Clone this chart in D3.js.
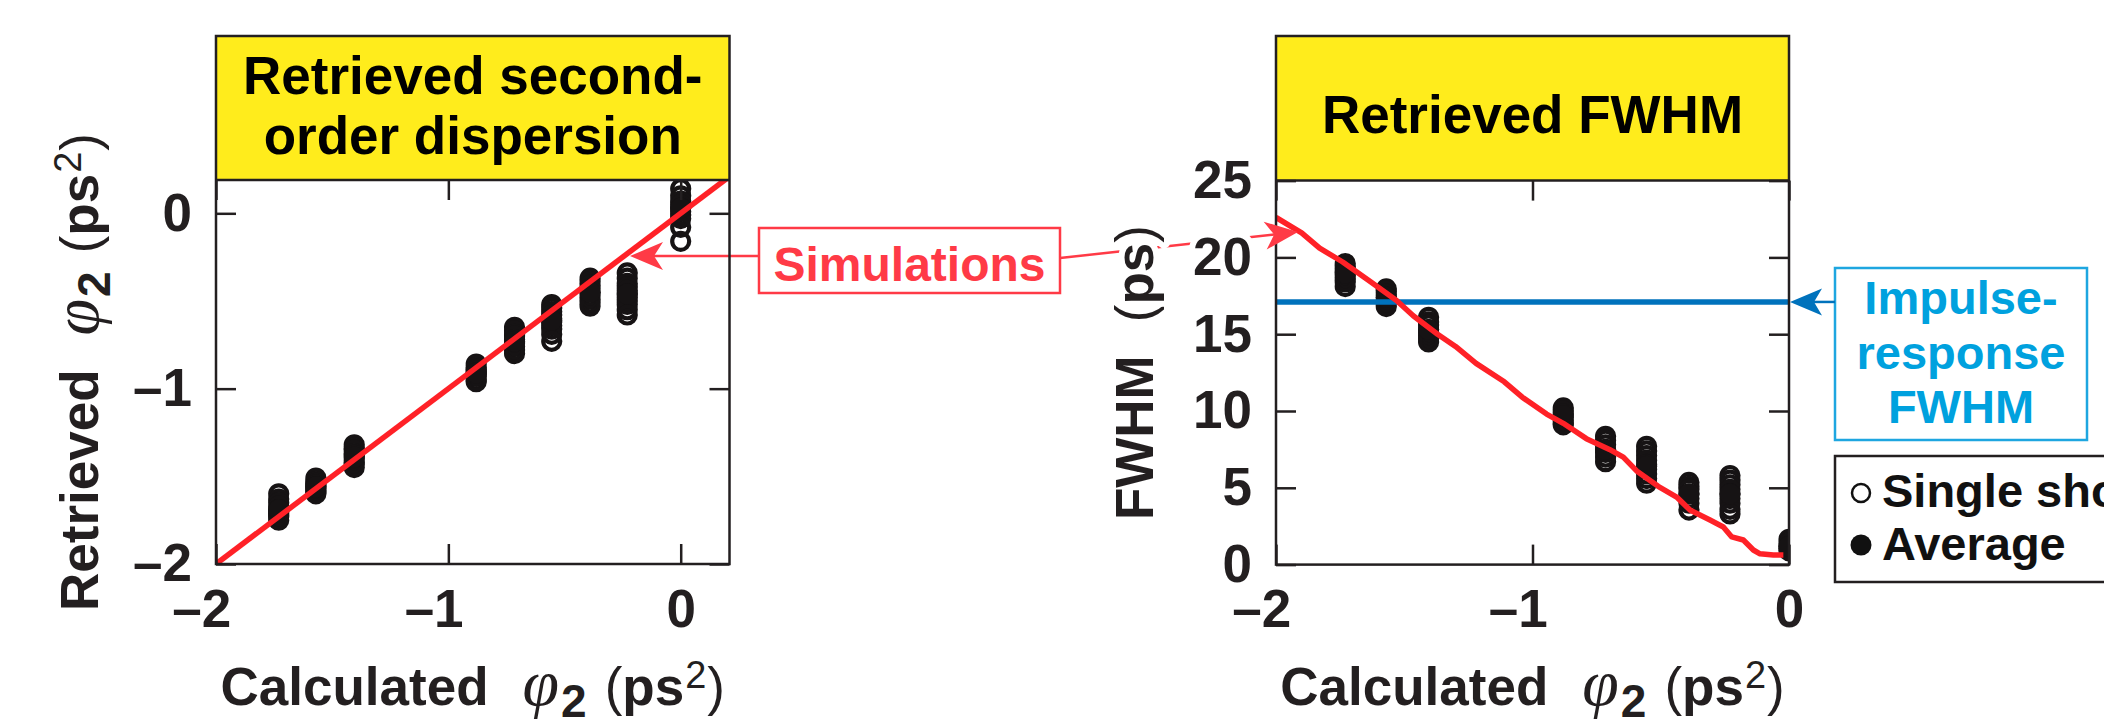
<!DOCTYPE html>
<html>
<head>
<meta charset="utf-8">
<script src="https://d3js.org/d3.v7.min.js"></script>
<style>
  body { margin: 0; background: #fff; }
</style>
</head>
<body>
<div id="chart"></div>
<script>
// Calculated phi2 of each shot group (ps^2)
const calcPhi = [-1.73, -1.57, -1.405, -0.88, -0.715, -0.555, -0.39, -0.23, 0];

// Retrieved phi2, single shots per group (ps^2)
const phiShots = [
  [-1.60, -1.63, -1.65, -1.67, -1.69, -1.70, -1.71, -1.72, -1.73, -1.75],
  [-1.51, -1.53, -1.54, -1.55, -1.56, -1.57, -1.58, -1.59, -1.60],
  [-1.32, -1.34, -1.35, -1.37, -1.38, -1.40, -1.42, -1.43, -1.45],
  [-0.86, -0.88, -0.89, -0.90, -0.91, -0.92, -0.93, -0.95, -0.96],
  [-0.65, -0.67, -0.69, -0.70, -0.72, -0.74, -0.76, -0.78, -0.80],
  [-0.52, -0.54, -0.56, -0.58, -0.60, -0.62, -0.64, -0.66, -0.69, -0.73],
  [-0.37, -0.39, -0.41, -0.43, -0.45, -0.47, -0.49, -0.51, -0.53],
  [-0.34, -0.37, -0.40, -0.42, -0.44, -0.46, -0.48, -0.50, -0.52, -0.55, -0.58],
  [0.14, 0.10, 0.07, 0.05, 0.03, 0.01, -0.01, -0.03, -0.08, -0.16]
];
const phiAvg = [-1.69, -1.56, -1.39, -0.91, -0.73, -0.61, -0.45, -0.46, 0.03];

// Retrieved FWHM, single shots per group (ps)
const fwhmShots = [
  [19.6, 19.4, 19.2, 19.0, 18.8, 18.6, 18.4, 18.1],
  [17.95, 17.8, 17.6, 17.4, 17.2, 17.0, 16.8],
  [16.1, 15.8, 15.6, 15.3, 15.1, 14.9, 14.7, 14.5],
  [10.2, 10.0, 9.8, 9.6, 9.4, 9.2, 9.1],
  [8.35, 8.1, 7.8, 7.5, 7.3, 7.0, 6.7],
  [7.7, 7.4, 7.1, 6.8, 6.5, 6.2, 5.9, 5.6, 5.3],
  [5.35, 5.1, 4.9, 4.6, 4.3, 4.0, 3.55],
  [5.8, 5.5, 5.2, 4.9, 4.6, 4.3, 4.0, 3.6, 3.3],
  [1.65, 1.4, 1.2, 1.05, 0.9]
];
const fwhmAvg = [19.0, 17.4, 15.3, 9.7, 7.5, 6.4, 4.6, 4.6, 1.2];

// Simulations
const simPhiX = [-2, 0.21];
const simPhiY = [-2, 0.21];
const simFwhmX = [-2.0, -1.90, -1.83, -1.74, -1.63, -1.53, -1.465, -1.37, -1.30, -1.22, -1.11, -1.04,
  -0.945, -0.88, -0.79, -0.70, -0.646, -0.594, -0.51, -0.438, -0.386, -0.308, -0.256, -0.223,
  -0.178, -0.139, -0.113, -0.061, -0.022];
const simFwhmY = [22.6, 21.6, 20.6, 19.7, 18.4, 17.2, 16.2, 15.0, 14.2, 13.1, 11.9, 10.9,
  9.8, 9.2, 8.2, 7.5, 7.0, 6.1, 5.1, 4.4, 3.55, 2.9, 2.45, 1.8,
  1.6, 0.95, 0.7, 0.62, 0.62];
const impulseFwhm = 17.1;

// Ticks
const phiXTicks = [-2, -1, 0];
const phiYTicks = [-2, -1, 0];
const fwhmXTicks = [-2, -1, 0];
const fwhmYTicks = [0, 5, 10, 15, 20, 25];

// Styles
const FONT = "'Liberation Sans', Arial, Helvetica, sans-serif";
const SERIF = "'Liberation Serif', 'Times New Roman', serif";
const INK = "#231f20";
const YELLOW = "#ffec1c";
const RED = "#ff2127";
const RED_NOTE = "#ff3a46";
const BLUE = "#0072bc";
const CYAN = "#00a1de";
const FS = 53;
const TICK = 20;

const fmt = d => d < 0 ? "\u2013" + Math.abs(d) : String(d);

const svg = d3.select("#chart")
  .append("svg")
  .attr("width", 2104)
  .attr("height", 724)
  .style("font-family", FONT);

// annotations sit under the panels so the axis text halos cut the leader line
const annoLayer = svg.append("g");

function titleText(g, x, y, rotate, parts) {
  const t = g.append("text")
    .attr("transform", `translate(${x},${y})` + (rotate ? " rotate(-90)" : ""))
    .attr("text-anchor", "middle")
    .attr("fill", INK);
  parts.forEach(p => {
    t.append("tspan")
      .text(p.t)
      .attr("font-family", p.serif ? SERIF : FONT)
      .attr("font-style", p.serif ? "italic" : "normal")
      .attr("font-weight", p.w || "bold")
      .attr("font-size", p.size || FS)
      .attr("dx", p.dx || 0)
      .attr("dy", p.dy || 0);
  });
  return t;
}

const phiParts = [
  { t: "\u03c6", serif: true, w: "normal", size: 66, dx: 34 },
  { t: "2", size: 46, dx: 2, dy: 12 },
  { t: "(", w: "normal", dx: 18, dy: -12 },
  { t: "ps" },
  { t: "2", w: "normal", size: 38, dx: 1, dy: -17 },
  { t: ")", w: "normal", dx: 1, dy: 17 }
];

function drawPanel(p) {
  const x = d3.scaleLinear().domain(p.xDomain).range([p.x0, p.x1]);
  const y = d3.scaleLinear().domain(p.yDomain).range([p.y1, p.y0]);
  const g = svg.append("g");

  // yellow header
  g.append("rect")
    .attr("x", p.x0).attr("y", p.top)
    .attr("width", p.x1 - p.x0).attr("height", p.y0 - p.top)
    .attr("fill", YELLOW);

  p.title.forEach((t, i) => {
    g.append("text")
      .attr("x", (p.x0 + p.x1) / 2)
      .attr("y", p.titleY[i])
      .attr("text-anchor", "middle")
      .attr("font-size", FS)
      .attr("font-weight", "bold")
      .attr("fill", "#000")
      .text(t);
  });

  svg.append("clipPath").attr("id", p.id)
    .append("rect")
    .attr("x", p.x0).attr("y", p.y0)
    .attr("width", p.x1 - p.x0).attr("height", p.y1 - p.y0);

  const plot = g.append("g").attr("clip-path", `url(#${p.id})`);

  const shotData = p.shots.flatMap((arr, i) => arr.map(v => ({ x: calcPhi[i], y: v })));
  plot.selectAll("circle.shot")
    .data(shotData)
    .join("circle")
    .attr("class", "shot")
    .attr("cx", d => x(d.x))
    .attr("cy", d => y(d.y))
    .attr("r", 8.5)
    .attr("fill", "none")
    .attr("stroke", "#161314")
    .attr("stroke-width", 4.2);

  plot.selectAll("circle.avg")
    .data(p.avg)
    .join("circle")
    .attr("class", "avg")
    .attr("cx", (d, i) => x(calcPhi[i]))
    .attr("cy", d => y(d))
    .attr("r", 10.5)
    .attr("fill", "#161314");

  if (p.hline !== undefined) {
    plot.append("line")
      .attr("x1", p.x0).attr("x2", p.x1)
      .attr("y1", y(p.hline)).attr("y2", y(p.hline))
      .attr("stroke", BLUE)
      .attr("stroke-width", 5.5);
  }

  plot.append("path")
    .datum(d3.zip(p.simX, p.simY))
    .attr("d", d3.line().x(d => x(d[0])).y(d => y(d[1])))
    .attr("fill", "none")
    .attr("stroke", RED)
    .attr("stroke-width", 5.5)
    .attr("stroke-linejoin", "round");

  // frame
  g.append("rect")
    .attr("x", p.x0).attr("y", p.top)
    .attr("width", p.x1 - p.x0).attr("height", p.y1 - p.top)
    .attr("fill", "none")
    .attr("stroke", INK)
    .attr("stroke-width", 2.5);
  g.append("line")
    .attr("x1", p.x0).attr("x2", p.x1)
    .attr("y1", p.y0).attr("y2", p.y0)
    .attr("stroke", INK)
    .attr("stroke-width", 2.5);

  // axes, ticks point inward
  const axB = g.append("g")
    .attr("transform", `translate(0,${p.y1})`)
    .call(d3.axisBottom(x).tickValues(p.xTicks).tickSize(-TICK).tickSizeOuter(0).tickPadding(25).tickFormat(fmt));
  axB.selectAll("text").attr("text-anchor", "end").attr("dx", FS * 0.278);

  g.append("g")
    .attr("transform", `translate(0,${p.y0})`)
    .call(d3.axisTop(x).tickValues(p.xTicks).tickSize(-TICK).tickSizeOuter(0).tickFormat(""));

  const axL = g.append("g")
    .attr("transform", `translate(${p.x0},0)`)
    .call(d3.axisLeft(y).tickValues(p.yTicks).tickSize(-TICK).tickSizeOuter(0).tickPadding(24).tickFormat(fmt));

  g.append("g")
    .attr("transform", `translate(${p.x1},0)`)
    .call(d3.axisRight(y).tickValues(p.yTicks).tickSize(-TICK).tickSizeOuter(0).tickFormat(""));

  g.selectAll(".domain").remove();
  g.selectAll(".tick line").attr("stroke", INK).attr("stroke-width", 2.5);
  g.selectAll(".tick text")
    .attr("font-family", FONT)
    .attr("font-size", FS)
    .attr("font-weight", "bold")
    .attr("fill", INK);

  titleText(g, (p.x0 + p.x1) / 2, 705, false, [{ t: "Calculated" }, ...phiParts]);
  const yt = titleText(g, p.yTitleX, (p.y0 + p.y1) / 2, true, p.yTitle);

  if (p.halo) {
    [axL.selectAll("text"), yt].forEach(s => s
      .attr("stroke", "#fff")
      .attr("stroke-width", 12)
      .attr("stroke-linejoin", "round")
      .attr("paint-order", "stroke"));
  }
  return { x, y };
}

const left = drawPanel({
  id: "clipL",
  x0: 216, x1: 729.5, top: 36, y0: 180, y1: 564,
  xDomain: [-2, 0.21], yDomain: [-2, 0.19],
  title: ["Retrieved second-", "order dispersion"], titleY: [94, 154],
  shots: phiShots, avg: phiAvg,
  simX: simPhiX, simY: simPhiY,
  xTicks: phiXTicks, yTicks: phiYTicks,
  yTitleX: 98,
  yTitle: [{ t: "Retrieved" }, ...phiParts]
});

const right = drawPanel({
  id: "clipR",
  x0: 1276, x1: 1789, top: 36, y0: 180.6, y1: 564.6,
  xDomain: [-2, 0], yDomain: [0, 25],
  title: ["Retrieved FWHM"], titleY: [133],
  shots: fwhmShots, avg: fwhmAvg,
  simX: simFwhmX, simY: simFwhmY,
  hline: impulseFwhm,
  xTicks: fwhmXTicks, yTicks: fwhmYTicks,
  yTitleX: 1153,
  yTitle: [{ t: "FWHM" }, { t: "(", w: "normal", dx: 33 }, { t: "ps" }, { t: ")", w: "normal" }],
  halo: true
});

// arrowhead polygon: tip, back barbs and a notch
function arrowHead(tip, from, len, half, notch) {
  const dx = tip[0] - from[0], dy = tip[1] - from[1];
  const L = Math.hypot(dx, dy);
  const ux = dx / L, uy = dy / L, nx = -uy, ny = ux;
  const bx = tip[0] - ux * len, by = tip[1] - uy * len;
  return "M" + [
    tip,
    [bx + nx * half, by + ny * half],
    [tip[0] - ux * (len - notch), tip[1] - uy * (len - notch)],
    [bx - nx * half, by - ny * half]
  ].join("L") + "Z";
}

// "Simulations" note
const simBox = { x: 759, y: 228, w: 301, h: 65 };
annoLayer.append("rect")
  .attr("x", simBox.x).attr("y", simBox.y)
  .attr("width", simBox.w).attr("height", simBox.h)
  .attr("fill", "#fff")
  .attr("stroke", RED_NOTE)
  .attr("stroke-width", 2.5);
annoLayer.append("text")
  .attr("x", simBox.x + simBox.w / 2)
  .attr("y", 281)
  .attr("text-anchor", "middle")
  .attr("font-size", 48)
  .attr("font-weight", "bold")
  .attr("fill", RED_NOTE)
  .text("Simulations");

const tipL = [630, 256];
const fromL = [simBox.x, 256];
const tipR = [1298, 232];
const fromR = [simBox.x + simBox.w, 258];
[[fromL, tipL], [fromR, tipR]].forEach(([a, b]) => {
  const L = Math.hypot(b[0] - a[0], b[1] - a[1]);
  const k = (L - 24) / L;
  annoLayer.append("line")
    .attr("x1", a[0]).attr("y1", a[1])
    .attr("x2", a[0] + (b[0] - a[0]) * k).attr("y2", a[1] + (b[1] - a[1]) * k)
    .attr("stroke", RED_NOTE)
    .attr("stroke-width", 2.5);
  svg.append("path")
    .attr("d", arrowHead(b, a, 33, 14, 9))
    .attr("fill", RED_NOTE);
});

// "Impulse-response FWHM" note
const impBox = { x: 1835, y: 268, w: 252, h: 172 };
svg.append("rect")
  .attr("x", impBox.x).attr("y", impBox.y)
  .attr("width", impBox.w).attr("height", impBox.h)
  .attr("fill", "#fff")
  .attr("stroke", "#1ea6e0")
  .attr("stroke-width", 2.5);
["Impulse-", "response", "FWHM"].forEach((t, i) => {
  svg.append("text")
    .attr("x", impBox.x + impBox.w / 2)
    .attr("y", 314 + i * 54.5)
    .attr("text-anchor", "middle")
    .attr("font-size", 47)
    .attr("font-weight", "bold")
    .attr("fill", CYAN)
    .text(t);
});
const yImp = right.y(impulseFwhm);
svg.append("line")
  .attr("x1", impBox.x).attr("x2", 1810)
  .attr("y1", yImp).attr("y2", yImp)
  .attr("stroke", BLUE)
  .attr("stroke-width", 2.5);
svg.append("path")
  .attr("d", arrowHead([1790, yImp], [impBox.x, yImp], 32, 13.5, 8))
  .attr("fill", BLUE);

// legend
const leg = svg.append("g");
leg.append("rect")
  .attr("x", 1835).attr("y", 456)
  .attr("width", 400).attr("height", 126)
  .attr("fill", "#fff")
  .attr("stroke", INK)
  .attr("stroke-width", 2.5);
leg.append("circle")
  .attr("cx", 1861).attr("cy", 493).attr("r", 9)
  .attr("fill", "none").attr("stroke", "#111").attr("stroke-width", 2.5);
leg.append("circle")
  .attr("cx", 1861).attr("cy", 545).attr("r", 10.5)
  .attr("fill", "#111");
[["Single shot", 507], ["Average", 560]].forEach(([t, yy]) => {
  leg.append("text")
    .attr("x", 1882).attr("y", yy)
    .attr("font-size", 47)
    .attr("font-weight", "bold")
    .attr("fill", "#111")
    .text(t);
});
</script>
</body>
</html>
